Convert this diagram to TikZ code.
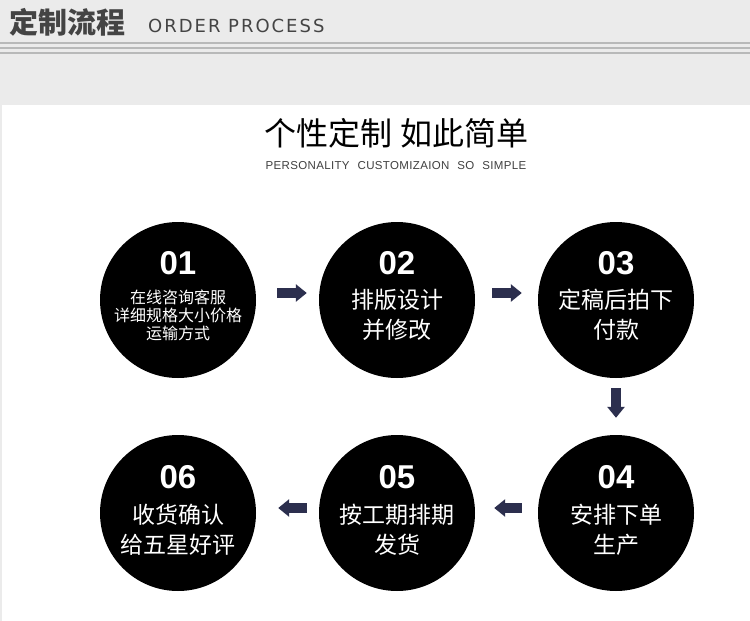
\documentclass[tikz,border=0pt]{standalone}
\usepackage{fontspec}
\setmainfont{Liberation Sans}
\newfontfamily\cjk{Noto Sans CJK SC}
\newfontfamily\numfont{Liberation Sans}
\newfontfamily\hdrfont[LetterSpace=11]{DejaVu Sans}
\newfontfamily\subfont[LetterSpace=3]{Liberation Sans}
\usetikzlibrary{calc,arrows.meta}
\definecolor{hdrgray}{HTML}{EBEBEB}
\definecolor{hdrline}{HTML}{B8B9B9}
\definecolor{hdrtext}{HTML}{444444}
\definecolor{arrownavy}{HTML}{2C2F4E}
\begin{document}
\begin{tikzpicture}[x=1pt,y=-1pt,
  disc/.style={circle,fill=black,minimum size=156pt,inner sep=0pt},
  num/.style={text=white,font=\numfont\bfseries\fontsize{33}{33}\selectfont,inner sep=0pt},
  txt/.style={text=white,font=\cjk\fontsize{23}{30}\selectfont,align=center,inner sep=0pt},
  small/.style={text=white,font=\cjk\fontsize{16}{18}\selectfont,align=center,inner sep=0pt},
  flow/.style={arrownavy,line width=10pt,-{Triangle[length=11pt,width=17pt]}}]
  \useasboundingbox (0,0) rectangle (750,621);
  \fill[hdrgray] (0,0) rectangle (750,621);
  \fill[white] (2,105) rectangle (750,621);
  \foreach \ly in {43,48,53}
    \draw[hdrline,line width=2.2pt] (0,\ly) -- (750,\ly);
  \node[anchor=west,inner sep=0pt,text=hdrtext,font=\cjk\bfseries\fontsize{29}{29}\selectfont] (hdr) at (9,22) {定制流程};
  \node[anchor=west,inner sep=0pt,text=hdrtext,font=\hdrfont\fontsize{18}{18}\selectfont] (hdren) at (148,26) {ORDER PROCESS};
  \node[inner sep=0pt,font=\cjk\fontsize{32}{32}\selectfont] (title) at (396,133) {个性定制\hspace{8pt}如此简单};
  \node[inner sep=0pt,text=black!75,font=\subfont\fontsize{11.5}{11.5}\selectfont] (sub) at (396,166) {PERSONALITY\hspace{8pt}CUSTOMIZAION\hspace{8pt}SO\hspace{8pt}SIMPLE};
  \node[disc] (c1) at (178,300) {};
  \node[disc] (c2) at (397,300) {};
  \node[disc] (c3) at (616,300) {};
  \node[disc] (c4) at (616,513) {};
  \node[disc] (c5) at (397,513) {};
  \node[disc] (c6) at (178,513) {};
  \node[num] (n1) at ([yshift=37pt]c1.center) {01};
  \node[num] (n2) at ([yshift=37pt]c2.center) {02};
  \node[num] (n3) at ([yshift=37pt]c3.center) {03};
  \node[num] (n4) at ([yshift=36pt]c4.center) {04};
  \node[num] (n5) at ([yshift=36pt]c5.center) {05};
  \node[num] (n6) at ([yshift=36pt]c6.center) {06};
  \node[small] (t1) at ([yshift=-15pt]c1.center) {在线咨询客服\\详细规格大小价格\\运输方式};
  \node[txt] (t2) at ([yshift=-15pt]c2.center) {排版设计\\并修改};
  \node[txt] (t3) at ([yshift=-15pt]c3.center) {定稿后拍下\\付款};
  \node[txt] (t4) at ([yshift=-17pt]c4.center) {安排下单\\生产};
  \node[txt] (t5) at ([yshift=-17pt]c5.center) {按工期排期\\发货};
  \node[txt] (t6) at ([yshift=-17pt]c6.center) {收货确认\\给五星好评};
  \draw[flow] ($(c1.east)+(21,-7)$) -- ($(c2.west)+(-12,-7)$);
  \draw[flow] ($(c2.east)+(17,-7)$) -- ($(c3.west)+(-16,-7)$);
  \draw[flow] ($(c3.south)+(0,10)$) -- ($(c4.north)+(0,-17)$);
  \draw[flow] ($(c4.west)+(-16,-5)$) -- ($(c5.east)+(19,-5)$);
  \draw[flow] ($(c5.west)+(-12,-5)$) -- ($(c6.east)+(22,-5)$);
\end{tikzpicture}
\end{document}
